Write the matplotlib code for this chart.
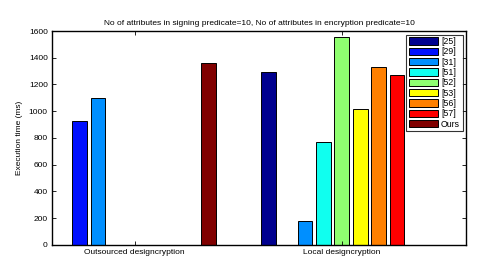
import numpy as np
import matplotlib
matplotlib.use("Agg")
import matplotlib.pyplot as plt

plt.rcParams["font.family"] = ["Liberation Sans", "DejaVu Sans"]

groups = ["Outsourced designcryption", "Local designcryption"]
series = ["[25]", "[29]", "[31]", "[51]", "[52]", "[53]", "[56]", "[57]", "Ours"]
values = {
    "[25]": [0, 1290],
    "[29]": [928, 0],
    "[31]": [1100, 175],
    "[51]": [0, 770],
    "[52]": [0, 1557],
    "[53]": [0, 1013],
    "[56]": [0, 1332],
    "[57]": [0, 1273],
    "Ours": [1360, 0],
}
# jet(64) 에서 MATLAB bar 가 고르는 색
colors = [(0, 0, 0.5625), (0, 0.0625, 1), (0, 0.5625, 1), (0.0625, 1, 0.9375),
          (0.5625, 1, 0.4375), (1, 1, 0), (1, 0.5, 0), (1, 0, 0), (0.5, 0, 0)]

fig = plt.figure(figsize=(4.99, 2.77), dpi=100)
ax = fig.add_axes([0.104, 0.116, 0.830, 0.772])

n = len(series)
gw = 0.8
x = np.arange(1, len(groups) + 1)
for i, s in enumerate(series):
    off = (i - (n - 1) / 2) * gw / n
    ax.bar(x + off, values[s], width=0.8 * gw / n, color=colors[i],
           edgecolor="black", linewidth=0.7, label=s)

ax.set_xlim(0.6, 2.6)
ax.set_ylim(0, 1600)
ax.set_yticks(range(0, 1601, 200))
ax.set_xticks(x)
ax.set_xticklabels(groups)
ax.tick_params(direction="in", top=True, right=True, labelsize=6.0, length=3, width=0.6, pad=3)
for sp in ax.spines.values():
    sp.set_linewidth(1.0)
ax.set_ylabel("Execution time (ms)", fontsize=6.0)
ax.set_title("No of attributes in signing predicate=10, No of attributes in encryption predicate=10",
             fontsize=6.0, pad=4)

leg = ax.legend(loc="upper right", fontsize=6.3, frameon=True, fancybox=False,
                edgecolor="black", handlelength=3.4, handleheight=0.9,
                labelspacing=0.15, borderpad=0.3, handletextpad=0.3,
                borderaxespad=0.4)
leg.get_frame().set_linewidth(0.8)

fig.savefig("out.png", dpi=100)
